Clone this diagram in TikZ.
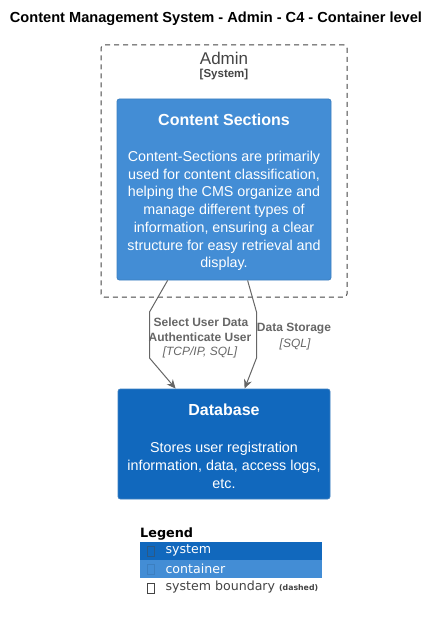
\documentclass[tikz,border=0pt]{standalone}
\usepackage{fontspec}
\setmainfont{Liberation Sans}
\newfontfamily\legendfont{DejaVu Sans}
\usetikzlibrary{arrows.meta}
\definecolor{containerblue}{HTML}{438DD5}
\definecolor{systemblue}{HTML}{1168BD}
\definecolor{boxborder}{HTML}{3C7FC0}
\definecolor{relgray}{HTML}{666666}
\definecolor{boundgray}{HTML}{444444}

\begin{document}
\begin{tikzpicture}[x=1pt,y=-1pt,
    c4box/.style={draw=boxborder, fill=#1, rounded corners=2.5pt, line width=0.8pt},
    boxtitle/.style={text=white, font=\fontsize{16}{19}\selectfont\bfseries},
    boxdesc/.style={text=white, align=center, font=\fontsize{14.3}{17.7}\selectfont},
    rel/.style={draw=relgray, line width=1pt, -{Stealth[length=9pt,width=8pt]}},
    rellabel/.style={text=relgray, align=center, font=\fontsize{12}{15}\selectfont\bfseries},
    reltech/.style={text=relgray, align=center, font=\fontsize{12}{15}\selectfont\itshape},
    legendrow/.style={fill=#1, draw=none, minimum width=182pt, minimum height=17.5pt, inner sep=0pt},
    legendtext/.style={anchor=west, text=#1, font=\legendfont\fontsize{12.6}{15}\selectfont},
    tofu/.style={draw=#1, line width=0.6pt, minimum width=7pt, minimum height=10pt, inner sep=0pt}]
    \useasboundingbox (0,0) rectangle (440,620);

    % title
    \node[font=\fontsize{14.6}{17}\selectfont\bfseries] (title) at (216,19) {Content Management System - Admin - C4 - Container level};

    % system boundary
    \node[draw=boundgray, dashed, dash pattern=on 5pt off 4pt, rounded corners=3pt, line width=1pt,
          minimum width=246pt, minimum height=252pt] (admin) at (224,171) {};
    \node[text=boundgray, font=\fontsize{17}{20}\selectfont] (adminname) at (224,58) {Admin};
    \node[text=boundgray, font=\fontsize{11.5}{14}\selectfont\bfseries] (admintype) at (224,75) {[System]};

    % containers
    \node[c4box=containerblue, minimum width=214pt, minimum height=181pt] (cs) at (224,189.5) {};
    \node[boxtitle] (cstitle) at (224,120) {Content Sections};
    \node[boxdesc] (csdesc) at (224,211) {Content-Sections are primarily\\used for content classification,\\helping the CMS organize and\\manage different types of\\information, ensuring a clear\\structure for easy retrieval and\\display.};

    \node[c4box=systemblue, minimum width=212pt, minimum height=110pt] (db) at (224,444) {};
    \node[boxtitle] (dbtitle) at (224,410) {Database};
    \node[boxdesc] (dbdesc) at (224,465.5) {Stores user registration\\information, data, access logs,\\etc.};

    % relations
    \coordinate (l1) at (149.5,312);
    \coordinate (l2) at (149.5,358);
    \coordinate (r1) at (256.5,312);
    \coordinate (r2) at (256.5,358);
    \draw[rel] ([xshift=51pt]cs.south west) -- (l1) -- (l2) -- ([xshift=58pt]db.north west);
    \draw[rel] ([xshift=131pt]cs.south west) -- (r1) -- (r2) -- ([xshift=127pt]db.north west);
    \node[rellabel] (lsel) at (201,322) {Select User Data};
    \node[rellabel] (lauth) at (200,337) {Authenticate User};
    \node[reltech] (ltech) at (200,352) {[TCP/IP, SQL]};
    \node[rellabel] (rstore) at (294,329) {Data Storage};
    \node[reltech] (rtech) at (295,344) {[SQL]};

    % legend
    \node[anchor=west, inner sep=0pt, font=\legendfont\fontsize{12.8}{15}\selectfont\bfseries] (legend) at (140,534) {Legend};
    \node[legendrow=systemblue, anchor=north west] (lsys) at (140,542) {};
    \node[legendrow=containerblue, anchor=north west] (lcont) at (140,560) {};
    \node[legendrow=white, anchor=north west] (lbound) at (140,577.5) {};
    \node[tofu=boxborder!70!black] at ([xshift=11pt]lsys.west) {};
    \node[tofu=boxborder] at ([xshift=11pt]lcont.west) {};
    \node[tofu=boundgray] at ([xshift=11pt,yshift=-1.5pt]lbound.west) {};
    \node[legendtext=white] at ([xshift=22pt,yshift=0.5pt]lsys.west) {system};
    \node[legendtext=white] at ([xshift=22pt,yshift=0.5pt]lcont.west) {container};
    \node[legendtext=boundgray] at ([xshift=22pt,yshift=-1pt]lbound.west) {system boundary {\fontsize{7.8}{9}\selectfont\bfseries (dashed)}};
\end{tikzpicture}
\end{document}
